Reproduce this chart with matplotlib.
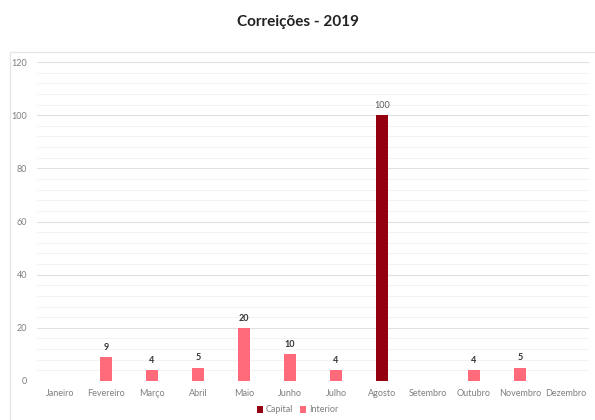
import matplotlib.pyplot as plt
import matplotlib.patches as mpatches
from matplotlib.ticker import MultipleLocator

plt.rcParams['font.family'] = ['Lato', 'DejaVu Sans']

months = ['Janeiro', 'Fevereiro', 'Março', 'Abril', 'Maio', 'Junho',
          'Julho', 'Agosto', 'Setembro', 'Outubro', 'Novembro', 'Dezembro']
capital = [0, 0, 0, 0, 0, 0, 0, 100, 0, 0, 0, 0]
interior = [0, 9, 4, 5, 20, 10, 4, 0, 0, 4, 5, 0]

capital_color = '#950010'
interior_color = '#ff6b7a'

fig = plt.figure(figsize=(5.95, 4.2), dpi=100)

# light frame around the chart area
fig.patches.append(mpatches.Rectangle((10 / 595, -0.01), 590 / 595, 1 - 52 / 420 + 0.01,
                                      transform=fig.transFigure, fill=False,
                                      edgecolor='#e6e6e6', linewidth=1))

ax = fig.add_axes([37 / 595, 1 - 381 / 420, 552 / 595, (381 - 62) / 420])

x = range(len(months))
ax.bar(x, capital, width=0.27, color=capital_color, label='Capital', zorder=3)
ax.bar(x, interior, width=0.27, bottom=capital, color=interior_color, label='Interior', zorder=3)

for i in x:
    if capital[i]:
        ax.text(i, capital[i] + 2, str(capital[i]), ha='center', va='bottom',
                fontsize=6.5, color='#595959')
    if interior[i]:
        ax.text(i, capital[i] + interior[i] + 2, str(interior[i]), ha='center', va='bottom',
                fontsize=6.5, color='#333333', fontweight='bold')

ax.set_xlim(-0.5, 11.5)
ax.set_ylim(0, 120)
ax.yaxis.set_major_locator(MultipleLocator(20))
ax.yaxis.set_minor_locator(MultipleLocator(4))
ax.grid(axis='y', which='major', color='#e0e0e0', linewidth=0.8, zorder=0)
ax.grid(axis='y', which='minor', color='#f3f3f3', linewidth=0.8, zorder=0)
ax.set_xticks(list(x))
ax.set_xticklabels(months)
ax.tick_params(axis='both', which='both', length=0, labelsize=6.5, colors='#7f7f7f')
ax.tick_params(axis='x', pad=6)
ax.tick_params(axis='y', pad=7)
for s in ax.spines.values():
    s.set_visible(False)

fig.text(0.5, 1 - 22 / 420, 'Correições - 2019', ha='center', va='center',
         fontsize=11, fontweight='bold', color='#222222')

fig.legend(loc='center', bbox_to_anchor=(0.5, 1 - 410 / 420), ncol=2, frameon=False,
           fontsize=6.5, handlelength=0.7, handleheight=0.7, handletextpad=0.3,
           columnspacing=0.8, labelcolor='#7f7f7f')

fig.savefig('out.png', dpi=100)
